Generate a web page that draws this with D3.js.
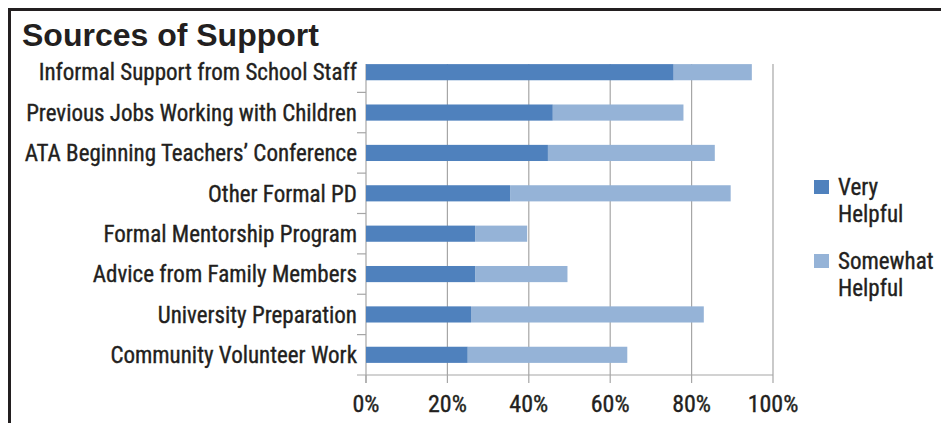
<html>
<head>
  <script src="https://d3js.org/d3.v7.min.js"></script>
  <style>
    body {
      margin: 0;
      background-color: #fff;
    }
    svg text {
      fill: #231f20;
    }
    .title {
      font-family: "Liberation Sans", Arial, sans-serif;
      font-weight: bold;
      font-size: 32px;
    }
    .lab {
      font-family: "Liberation Sans Narrow", "Roboto Condensed", "DejaVu Sans Condensed", sans-serif;
      font-size: 23px;
      stroke: #231f20;
      stroke-width: 0.35px;
    }
    .tick-lab {
      font-size: 24px;
    }
    .grid line {
      stroke: #a6a6a6;
      stroke-width: 1.2px;
    }
  </style>
</head>
<body>
  <svg width="941" height="423"></svg>

  <script>
    var categories = [
      "Informal Support from School Staff",
      "Previous Jobs Working with Children",
      "ATA Beginning Teachers\u2019 Conference",
      "Other Formal PD",
      "Formal Mentorship Program",
      "Advice from Family Members",
      "University Preparation",
      "Community Volunteer Work"
    ];
    var veryHelpful     = [75.6, 45.9, 44.7, 35.4, 26.8, 26.8, 25.8, 25.0];
    var somewhatHelpful = [19.2, 32.1, 41.0, 54.2, 12.8, 22.7, 57.2, 39.2];
    var seriesNames = ["Very Helpful", "Somewhat Helpful"];
    var xTicks = [0, 20, 40, 60, 80, 100];

    var svg = d3.select("svg");

    // frame (only top and left edges show)
    svg.append("path")
        .attr("d", "M9.5,423 V9.5 H941")
        .attr("fill", "none")
        .attr("stroke", "#231f20")
        .attr("stroke-width", 3);

    svg.append("text")
        .attr("class", "title")
        .attr("x", 22)
        .attr("y", 46)
        .text("Sources of Support");

    var rows = categories.map(function(c, i) {
      return {cat: c, very: veryHelpful[i], somewhat: somewhatHelpful[i]};
    });

    var x = d3.scaleLinear().domain([0, 100]).range([366, 773]);
    var y = d3.scaleBand().domain(categories).range([52, 375]).paddingInner(0.6).paddingOuter(0.3);
    var step = y.step();
    var plotTop = 64;

    var color = d3.scaleOrdinal().domain(["very", "somewhat"]).range(["#4f81bd", "#95b3d7"]);

    // gridlines
    svg.append("g")
        .attr("class", "grid")
        .selectAll("line")
        .data(xTicks.slice(1))
        .enter().append("line")
          .attr("x1", function(d) { return x(d); })
          .attr("x2", function(d) { return x(d); })
          .attr("y1", plotTop)
          .attr("y2", 375);

    // y axis line + ticks between categories
    var axisG = svg.append("g").attr("class", "grid");
    axisG.append("line")
        .attr("x1", x(0)).attr("x2", x(0))
        .attr("y1", plotTop).attr("y2", 383);
    axisG.append("line")
        .attr("x1", 357).attr("x2", x(100))
        .attr("y1", 375).attr("y2", 375);
    axisG.selectAll(".yt")
        .data(categories.slice(1))
        .enter().append("line")
          .attr("class", "yt")
          .attr("x1", 357).attr("x2", x(0))
          .attr("y1", function(d) { return y(d) - (step - y.bandwidth()) / 2; })
          .attr("y2", function(d) { return y(d) - (step - y.bandwidth()) / 2; });
    axisG.selectAll(".xt")
        .data(xTicks)
        .enter().append("line")
          .attr("class", "xt")
          .attr("x1", function(d) { return x(d); })
          .attr("x2", function(d) { return x(d); })
          .attr("y1", 375).attr("y2", 383);

    // stacked bars
    var stack = d3.stack().keys(["very", "somewhat"]);
    var layers = stack(rows);

    svg.append("g")
        .selectAll("g")
        .data(layers)
        .enter().append("g")
          .attr("fill", function(d) { return color(d.key); })
        .selectAll("rect")
        .data(function(d) { return d; })
        .enter().append("rect")
          .attr("x", function(d) { return x(d[0]); })
          .attr("width", function(d) { return x(d[1]) - x(d[0]); })
          .attr("y", function(d) { return y(d.data.cat); })
          .attr("height", y.bandwidth());

    // category labels
    svg.append("g")
        .selectAll("text")
        .data(categories)
        .enter().append("text")
          .attr("class", "lab")
          .attr("x", 357)
          .attr("y", function(d) { return y(d) + y.bandwidth() / 2; })
          .attr("dy", "0.36em")
          .attr("text-anchor", "end")
          .text(function(d) { return d; });

    // x tick labels
    svg.append("g")
        .selectAll("text")
        .data(xTicks)
        .enter().append("text")
          .attr("class", "lab tick-lab")
          .attr("x", function(d) { return x(d); })
          .attr("y", 412)
          .attr("text-anchor", "middle")
          .text(function(d) { return d + "%"; });

    // legend
    var legend = svg.append("g")
        .selectAll("g")
        .data(seriesNames)
        .enter().append("g")
          .attr("transform", function(d, i) { return "translate(814," + (180 + i * 74) + ")"; });
    legend.append("rect")
        .attr("width", 15)
        .attr("height", 14)
        .attr("fill", function(d, i) { return color.range()[i]; });
    legend.append("text")
        .attr("class", "lab")
        .attr("x", 24)
        .attr("y", 15)
        .text(function(d) { return d.split(" ")[0]; });
    legend.append("text")
        .attr("class", "lab")
        .attr("x", 24)
        .attr("y", 42)
        .text(function(d) { return d.split(" ")[1]; });
  </script>
</body>
</html>
